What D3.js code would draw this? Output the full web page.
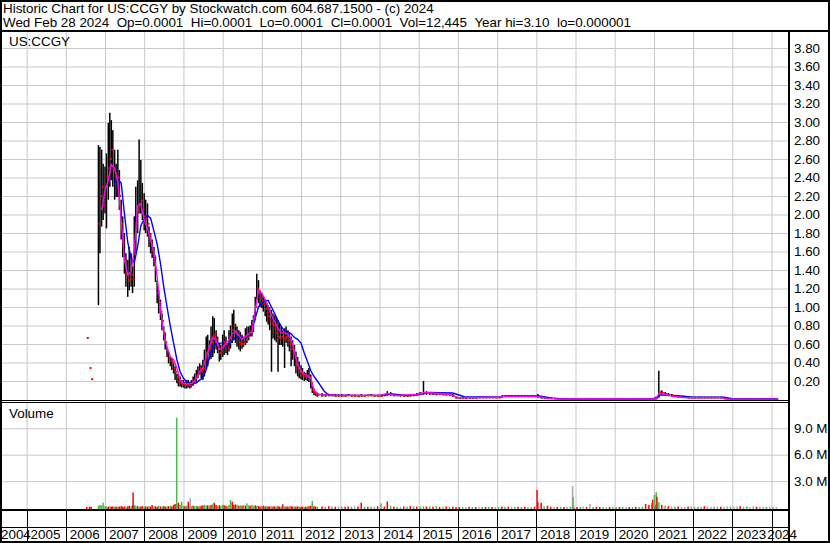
<!DOCTYPE html>
<html>
<head>
<meta charset="utf-8">
<script src="https://cdn.jsdelivr.net/npm/d3@7"></script>
<style>
  body { margin: 0; background: #fff; }
  svg { display: block; font-family: Arial, "Liberation Sans", sans-serif; }
</style>
</head>
<body>
<svg id="chart" width="830" height="543"></svg>
<script>
// Texts
const title = 'Historic Chart for US:CCGY by Stockwatch.com 604.687.1500 - (c) 2024';
const subtitle = 'Wed Feb 28 2024  Op=0.0001  Hi=0.0001  Lo=0.0001  Cl=0.0001  Vol=12,445  Year hi=3.10  lo=0.000001';
const symbol = 'US:CCGY';
const volumeLabel = 'Volume';

// Axis ticks
const years = [2004, 2005, 2006, 2007, 2008, 2009, 2010, 2011, 2012, 2013, 2014,
  2015, 2016, 2017, 2018, 2019, 2020, 2021, 2022, 2023, 2024];
const priceTicks = [0.2, 0.4, 0.6, 0.8, 1.0, 1.2, 1.4, 1.6, 1.8, 2.0, 2.2, 2.4, 2.6,
  2.8, 3.0, 3.2, 3.4, 3.6, 3.8];
const volumeTicks = [3, 6, 9];
const volumeTickLabels = ['3.0 M', '6.0 M', '9.0 M'];

// Price bars (semi-monthly while active, monthly later)
const dates = [
  '2006-07-15', '2006-08-10', '2006-08-25',
  '2006-11-01', '2006-11-15', '2006-12-01', '2006-12-15',
  '2007-01-01', '2007-01-15', '2007-02-01', '2007-02-15', '2007-03-01', '2007-03-15', '2007-04-01', '2007-04-15', '2007-05-01', '2007-05-15', '2007-06-01', '2007-06-15',
  '2007-07-01', '2007-07-15', '2007-08-01', '2007-08-15', '2007-09-01', '2007-09-15', '2007-10-01', '2007-10-15', '2007-11-01', '2007-11-15', '2007-12-01', '2007-12-15',
  '2008-01-01', '2008-01-15', '2008-02-01', '2008-02-15', '2008-03-01', '2008-03-15', '2008-04-01', '2008-04-15', '2008-05-01', '2008-05-15', '2008-06-01', '2008-06-15',
  '2008-07-01', '2008-07-15', '2008-08-01', '2008-08-15', '2008-09-01', '2008-09-15', '2008-10-01', '2008-10-15', '2008-11-01', '2008-11-15', '2008-12-01', '2008-12-15',
  '2009-01-01', '2009-01-15', '2009-02-01', '2009-02-15', '2009-03-01', '2009-03-15', '2009-04-01', '2009-04-15', '2009-05-01', '2009-05-15', '2009-06-01', '2009-06-15',
  '2009-07-01', '2009-07-15', '2009-08-01', '2009-08-15', '2009-09-01', '2009-09-15', '2009-10-01', '2009-10-15', '2009-11-01', '2009-11-15', '2009-12-01', '2009-12-15',
  '2010-01-01', '2010-01-15', '2010-02-01', '2010-02-15', '2010-03-01', '2010-03-15', '2010-04-01', '2010-04-15', '2010-05-01', '2010-05-15', '2010-06-01', '2010-06-15',
  '2010-07-01', '2010-07-15', '2010-08-01', '2010-08-15', '2010-09-01', '2010-09-15', '2010-10-01', '2010-10-15', '2010-11-01', '2010-11-15', '2010-12-01', '2010-12-15',
  '2011-01-01', '2011-01-15', '2011-02-01', '2011-02-15', '2011-03-01', '2011-03-15', '2011-04-01', '2011-04-15', '2011-05-01', '2011-05-15', '2011-06-01', '2011-06-15',
  '2011-07-01', '2011-07-15', '2011-08-01', '2011-08-15', '2011-09-01', '2011-09-15', '2011-10-01', '2011-10-15', '2011-11-01', '2011-11-15', '2011-12-01', '2011-12-15',
  '2012-01-01', '2012-01-15', '2012-02-01', '2012-02-15', '2012-03-01', '2012-03-15', '2012-04-01', '2012-04-15', '2012-05-01', '2012-05-15', '2012-06-01',
  '2012-07-15', '2012-08-15', '2012-09-15', '2012-10-15', '2012-11-15', '2012-12-15',
  '2013-01-15', '2013-02-15', '2013-03-15', '2013-04-15', '2013-05-15', '2013-06-15', '2013-07-15', '2013-08-15', '2013-09-15', '2013-10-15', '2013-11-15', '2013-12-15',
  '2014-01-15', '2014-02-15', '2014-03-15', '2014-04-15', '2014-05-15', '2014-06-15', '2014-07-15', '2014-08-15', '2014-09-15', '2014-10-15', '2014-11-15', '2014-12-15',
  '2015-01-15', '2015-02-15', '2015-03-15', '2015-04-15', '2015-05-15', '2015-06-15', '2015-07-15', '2015-08-15', '2015-09-15', '2015-10-15', '2015-11-15', '2015-12-15',
  '2016-01-15', '2016-02-15', '2016-03-15', '2016-04-15', '2016-05-15', '2016-06-15', '2016-07-15', '2016-08-15', '2016-09-15', '2016-10-15', '2016-11-15', '2016-12-15',
  '2017-01-15', '2017-02-15', '2017-03-15', '2017-04-15', '2017-05-15', '2017-06-15', '2017-07-15', '2017-08-15', '2017-09-15', '2017-10-15', '2017-11-15', '2017-12-15',
  '2018-01-15', '2018-02-15', '2018-03-15', '2018-04-15', '2018-05-15', '2018-06-15', '2018-07-15', '2018-08-15', '2018-09-15', '2018-10-15', '2018-11-15', '2018-12-15',
  '2019-01-15', '2019-02-15', '2019-03-15', '2019-04-15', '2019-05-15', '2019-06-15', '2019-07-15', '2019-08-15', '2019-09-15', '2019-10-15', '2019-11-15', '2019-12-15',
  '2020-01-15', '2020-02-15', '2020-03-15', '2020-04-15', '2020-05-15', '2020-06-15', '2020-07-15', '2020-08-15', '2020-09-15', '2020-10-15', '2020-11-15', '2020-12-15',
  '2021-01-15', '2021-02-15', '2021-03-15', '2021-04-15', '2021-05-15', '2021-06-15', '2021-07-15', '2021-08-15', '2021-09-15', '2021-10-15', '2021-11-15', '2021-12-15',
  '2022-01-15', '2022-02-15', '2022-03-15', '2022-04-15', '2022-05-15', '2022-06-15', '2022-07-15', '2022-08-15', '2022-09-15', '2022-10-15', '2022-11-15', '2022-12-15',
  '2023-01-15', '2023-02-15', '2023-03-15', '2023-04-15', '2023-05-15', '2023-06-15', '2023-07-15', '2023-08-15', '2023-09-15', '2023-10-15', '2023-11-15', '2023-12-15',
  '2024-01-15', '2024-02-15'
];

const highs = [
  0.665, 0.34, 0.22,
  2.75, 2.73, 2.70, 2.55,
  2.52, 2.66, 2.99, 3.10, 3.02, 2.91, 2.70, 2.55, 2.70, 2.48, 2.16, 1.98, 1.80, 1.58, 1.51, 1.65, 1.58, 1.44, 1.98, 2.30, 2.37, 2.81, 2.59, 2.34,
  2.23, 2.16, 2.12, 1.87, 1.80, 1.73, 1.65, 1.54, 1.29, 1.18, 1.08, 0.93, 0.79, 0.72, 0.57, 0.52, 0.46, 0.45, 0.39, 0.36, 0.28, 0.27, 0.25, 0.21,
  0.21, 0.19, 0.21, 0.21, 0.19, 0.21, 0.25, 0.28, 0.32, 0.36, 0.39, 0.37, 0.43, 0.54, 0.68, 0.70, 0.64, 0.79, 0.90, 0.88, 0.75, 0.68, 0.61, 0.59,
  0.70, 0.75, 0.68, 0.61, 0.75, 0.80, 0.93, 0.97, 0.82, 0.79, 0.75, 0.73, 0.70, 0.68, 0.77, 0.79, 0.79, 0.80, 0.86, 0.91, 1.11, 1.36, 1.29, 1.18,
  1.15, 1.11, 1.08, 1.04, 1.02, 1.00, 0.97, 0.93, 0.91, 0.90, 0.86, 0.82, 0.79, 0.75, 0.77, 0.79, 0.75, 0.72, 0.68, 0.64, 0.59, 0.52, 0.46, 0.41,
  0.37, 0.34, 0.30, 0.29, 0.32, 0.34, 0.27, 0.18, 0.12, 0.085, 0.074,
  0.07, 0.06, 0.06, 0.055, 0.06, 0.055,
  0.06, 0.05, 0.06, 0.05, 0.055, 0.05, 0.06, 0.05, 0.055, 0.06, 0.05, 0.05,
  0.05, 0.06, 0.09, 0.08, 0.06, 0.055, 0.055, 0.05, 0.05, 0.055, 0.06, 0.07,
  0.08, 0.20, 0.09, 0.08, 0.075, 0.07, 0.075, 0.07, 0.065, 0.065, 0.06, 0.03,
  0.025, 0.02, 0.02, 0.025, 0.02, 0.02, 0.03, 0.03, 0.03, 0.03, 0.03, 0.03,
  0.03, 0.045, 0.045, 0.045, 0.04, 0.04, 0.04, 0.04, 0.04, 0.04, 0.04, 0.045,
  0.06, 0.035, 0.025, 0.02, 0.02, 0.015, 0.01, 0.008, 0.008, 0.008, 0.008, 0.008,
  0.006, 0.006, 0.008, 0.006, 0.006, 0.006, 0.005, 0.006, 0.006, 0.005, 0.006, 0.006,
  0.006, 0.005, 0.006, 0.005, 0.006, 0.006, 0.006, 0.005, 0.006, 0.008, 0.01, 0.012,
  0.03, 0.31, 0.10, 0.08, 0.07, 0.06, 0.05, 0.045, 0.04, 0.035, 0.03, 0.03,
  0.03, 0.03, 0.03, 0.03, 0.03, 0.03, 0.03, 0.03, 0.03, 0.02, 0.01, 0.008,
  0.008, 0.007, 0.008, 0.008, 0.006, 0.008, 0.007, 0.008, 0.006, 0.008, 0.007, 0.006,
  0.005, 0.005
];

const lows = [
  0.665, 0.34, 0.22,
  1.02, 1.58, 1.87, 1.94,
  2.01, 1.85, 2.16, 2.30, 2.37, 2.30, 2.16, 2.19, 2.19, 2.05, 1.73, 1.54, 1.36, 1.22, 1.11, 1.18, 1.22, 1.15, 1.22, 1.58, 1.80, 2.01, 2.01, 1.94,
  1.83, 1.80, 1.76, 1.65, 1.58, 1.53, 1.44, 1.27, 1.04, 0.93, 0.86, 0.75, 0.64, 0.54, 0.46, 0.39, 0.36, 0.32, 0.28, 0.21, 0.175, 0.14, 0.14, 0.13,
  0.13, 0.12, 0.12, 0.13, 0.12, 0.13, 0.15, 0.175, 0.19, 0.23, 0.27, 0.23, 0.21, 0.25, 0.32, 0.36, 0.43, 0.44, 0.46, 0.50, 0.54, 0.50, 0.41, 0.43,
  0.46, 0.48, 0.50, 0.48, 0.52, 0.55, 0.61, 0.64, 0.61, 0.57, 0.54, 0.52, 0.55, 0.57, 0.59, 0.61, 0.64, 0.68, 0.68, 0.73, 0.86, 1.08, 1.04, 1.00,
  0.99, 0.95, 0.90, 0.84, 0.81, 0.75, 0.30, 0.66, 0.64, 0.62, 0.30, 0.59, 0.59, 0.57, 0.34, 0.61, 0.57, 0.52, 0.36, 0.43, 0.36, 0.28, 0.25, 0.23,
  0.22, 0.21, 0.20, 0.21, 0.20, 0.19, 0.12, 0.07, 0.05, 0.04, 0.03,
  0.03, 0.03, 0.035, 0.035, 0.03, 0.03,
  0.03, 0.03, 0.035, 0.03, 0.03, 0.03, 0.03, 0.03, 0.035, 0.035, 0.03, 0.03,
  0.03, 0.035, 0.04, 0.04, 0.035, 0.035, 0.03, 0.03, 0.03, 0.03, 0.035, 0.04,
  0.05, 0.05, 0.05, 0.05, 0.05, 0.045, 0.05, 0.045, 0.04, 0.04, 0.03, 0.01,
  0.01, 0.01, 0.01, 0.01, 0.01, 0.01, 0.015, 0.015, 0.015, 0.015, 0.015, 0.015,
  0.015, 0.02, 0.025, 0.025, 0.025, 0.025, 0.025, 0.025, 0.025, 0.025, 0.025, 0.025,
  0.02, 0.01, 0.01, 0.008, 0.008, 0.005, 0.003, 0.002, 0.002, 0.002, 0.002, 0.002,
  0.001, 0.001, 0.001, 0.001, 0.001, 0.001, 0.001, 0.001, 0.001, 0.001, 0.001, 0.001,
  0.001, 0.001, 0.001, 0.001, 0.001, 0.001, 0.001, 0.001, 0.001, 0.002, 0.003, 0.004,
  0.005, 0.02, 0.05, 0.04, 0.035, 0.03, 0.025, 0.02, 0.015, 0.015, 0.012, 0.012,
  0.01, 0.01, 0.01, 0.01, 0.01, 0.01, 0.01, 0.01, 0.01, 0.005, 0.002, 0.002,
  0.001, 0.001, 0.001, 0.001, 0.001, 0.001, 0.001, 0.001, 0.001, 0.001, 0.001, 0.001,
  0.0001, 0.0001
];

const closes = [
  0.665, 0.34, 0.22,
  1.90, 2.20, 2.30, 2.10,
  2.30, 2.40, 2.50, 2.60, 2.70, 2.50, 2.45, 2.40, 2.40, 2.20, 1.90, 1.70, 1.50, 1.35, 1.28, 1.30, 1.35, 1.30, 1.60, 1.90, 2.05, 2.10, 2.15, 2.05,
  1.98, 1.95, 1.90, 1.78, 1.70, 1.62, 1.55, 1.40, 1.15, 1.05, 0.95, 0.85, 0.72, 0.62, 0.52, 0.45, 0.42, 0.40, 0.34, 0.30, 0.24, 0.20, 0.18, 0.17,
  0.16, 0.16, 0.16, 0.16, 0.15, 0.16, 0.19, 0.22, 0.26, 0.30, 0.33, 0.30, 0.33, 0.42, 0.50, 0.55, 0.55, 0.62, 0.68, 0.70, 0.65, 0.58, 0.50, 0.52,
  0.58, 0.62, 0.60, 0.55, 0.62, 0.68, 0.75, 0.80, 0.72, 0.70, 0.62, 0.60, 0.60, 0.62, 0.65, 0.68, 0.72, 0.74, 0.78, 0.85, 1.00, 1.20, 1.15, 1.10,
  1.07, 1.03, 0.98, 0.94, 0.90, 0.86, 0.82, 0.80, 0.76, 0.72, 0.68, 0.66, 0.68, 0.65, 0.66, 0.68, 0.64, 0.60, 0.55, 0.50, 0.45, 0.38, 0.33, 0.30,
  0.28, 0.26, 0.25, 0.24, 0.25, 0.24, 0.18, 0.10, 0.07, 0.06, 0.05,
  0.045, 0.045, 0.045, 0.045, 0.04, 0.04,
  0.04, 0.04, 0.045, 0.04, 0.04, 0.035, 0.04, 0.04, 0.045, 0.045, 0.04, 0.04,
  0.04, 0.045, 0.06, 0.055, 0.045, 0.045, 0.045, 0.04, 0.04, 0.045, 0.05, 0.06,
  0.065, 0.07, 0.07, 0.065, 0.06, 0.06, 0.06, 0.055, 0.055, 0.05, 0.04, 0.02,
  0.015, 0.015, 0.015, 0.015, 0.015, 0.015, 0.02, 0.02, 0.02, 0.02, 0.02, 0.02,
  0.02, 0.035, 0.035, 0.035, 0.035, 0.035, 0.035, 0.035, 0.035, 0.035, 0.035, 0.035,
  0.03, 0.02, 0.015, 0.012, 0.012, 0.01, 0.005, 0.004, 0.004, 0.004, 0.004, 0.004,
  0.003, 0.003, 0.004, 0.003, 0.003, 0.003, 0.003, 0.003, 0.003, 0.003, 0.003, 0.003,
  0.003, 0.003, 0.003, 0.003, 0.003, 0.003, 0.003, 0.003, 0.003, 0.004, 0.006, 0.008,
  0.015, 0.08, 0.07, 0.06, 0.05, 0.045, 0.04, 0.035, 0.03, 0.025, 0.02, 0.02,
  0.02, 0.02, 0.02, 0.02, 0.02, 0.02, 0.02, 0.02, 0.02, 0.01, 0.005, 0.004,
  0.004, 0.003, 0.004, 0.004, 0.003, 0.004, 0.003, 0.004, 0.003, 0.004, 0.003, 0.003,
  0.003, 0.0001
];

// Volume (millions) and direction per bar: u = up, d = down, n = unchanged
const volumes = [
  0.08, 0.1, 0.08,
  0.2, 0.3, 0.25, 0.55,
  0.15, 0.12, 0.1, 0.12, 0.1, 0.12, 0.1, 0.1, 0.08, 0.12, 0.15, 0.1, 0.12, 0.1, 0.12, 0.2, 0.15, 0.25, 0.3, 0.2, 0.15, 0.12, 0.1, 0.15,
  0.1, 0.12, 0.1, 0.15, 0.1, 0.27, 0.15, 0.12, 0.1, 0.2, 0.12, 0.1, 0.15, 0.1, 0.12, 0.15, 0.2, 0.12, 0.3, 0.4, 0.35, 0.55, 0.3, 0.66,
  0.2, 0.15, 0.2, 0.66, 0.2, 0.15, 0.2, 0.15, 0.2, 0.12, 0.15, 0.2, 0.25, 0.3, 0.2, 0.25, 0.2, 0.3, 0.35, 0.54, 0.3, 0.2, 0.25, 0.2,
  0.3, 0.25, 0.2, 0.15, 0.3, 0.85, 0.66, 0.3, 0.35, 0.3, 0.2, 0.25, 0.2, 0.3, 0.2, 0.47, 0.25, 0.2, 0.3, 0.2, 0.25, 0.2, 0.15, 0.12,
  0.15, 0.2, 0.12, 0.15, 0.1, 0.12, 0.15, 0.1, 0.12, 0.1, 0.15, 0.1, 0.12, 0.36, 0.12, 0.1, 0.12, 0.1, 0.15, 0.1, 0.12, 0.1, 0.12, 0.1,
  0.08, 0.1, 0.08, 0.1, 0.12, 0.15, 0.2, 0.74, 0.15, 0.1, 0.12,
  0.12, 0.08, 0.15, 0.1, 0.08, 0.12,
  0.1, 0.08, 0.12, 0.1, 0.15, 0.1, 0.54, 0.1, 0.08, 0.12, 0.1, 0.15,
  0.47, 0.1, 0.69, 0.2, 0.1, 0.08, 0.1, 0.12, 0.1, 0.15, 0.12, 0.1,
  0.12, 0.15, 0.1, 0.12, 0.1, 0.17, 0.08, 0.1, 0.12, 0.08, 0.1, 0.06,
  0.05, 0.06, 0.05, 0.08, 0.05, 0.06, 0.05, 0.06, 0.05, 0.08, 0.06, 0.05,
  0.06, 0.1, 0.08, 0.1, 0.08, 0.06, 0.08, 0.06, 0.1, 0.08, 0.06, 0.1,
  0.6, 0.55, 0.12, 0.2, 0.1, 0.08, 0.06, 0.08, 0.06, 0.08, 0.1, 0.1,
  0.06, 0.08, 0.1, 0.06, 0.4, 0.06, 0.08, 0.06, 0.05, 0.08, 0.06, 0.05,
  0.06, 0.05, 0.08, 0.06, 0.05, 0.06, 0.08, 0.06, 0.1, 0.4, 0.3, 0.48,
  0.3, 0.6, 0.3, 0.2, 0.15, 0.12, 0.1, 0.12, 0.1, 0.08, 0.1, 0.12,
  0.1, 0.08, 0.12, 0.15, 0.1, 0.08, 0.1, 0.12, 0.08, 0.1, 0.12, 0.1,
  0.1, 0.12, 0.15, 0.1, 0.12, 0.08, 0.15, 0.1, 0.12, 0.1, 0.08, 0.1,
  0.05, 0.05
];

const volumeDirs = [
  'd', 'd', 'd',
  'u', 'u', 'u', 'u',
  'u', 'u', 'd', 'u', 'd', 'd', 'u', 'd', 'u', 'd', 'd', 'd', 'd', 'u', 'd', 'd', 'u', 'd', 'u', 'u', 'd', 'u', 'd', 'd',
  'u', 'd', 'd', 'u', 'd', 'd', 'u', 'd', 'd', 'u', 'd', 'u', 'd', 'd', 'u', 'd', 'u', 'd', 'd', 'd', 'u', 'd', 'u', 'u',
  'u', 'd', 'u', 'd', 'u', 'u', 'd', 'u', 'u', 'd', 'u', 'd', 'd', 'u', 'u', 'd', 'u', 'd', 'u', 'd', 'd', 'u', 'd', 'u',
  'u', 'd', 'd', 'u', 'u', 'u', 'd', 'd', 'd', 'u', 'd', 'u', 'd', 'u', 'd', 'u', 'u', 'd', 'u', 'u', 'd', 'u', 'd', 'd',
  'u', 'd', 'd', 'u', 'd', 'd', 'u', 'd', 'd', 'u', 'd', 'd', 'u', 'd', 'u', 'd', 'd', 'u', 'd', 'd', 'u', 'd', 'd', 'u',
  'd', 'd', 'u', 'd', 'u', 'd', 'd', 'u', 'd', 'd', 'u',
  'd', 'u', 'd', 'u', 'd', 'n',
  'u', 'd', 'd', 'u', 'n', 'd', 'd', 'u', 'd', 'u', 'n', 'd',
  'u', 'd', 'd', 'u', 'd', 'u', 'n', 'd', 'u', 'd', 'u', 'd',
  'u', 'u', 'd', 'u', 'd', 'u', 'd', 'n', 'd', 'u', 'd', 'd',
  'd', 'u', 'n', 'd', 'u', 'd', 'n', 'u', 'd', 'u', 'd', 'n',
  'u', 'd', 'u', 'd', 'n', 'u', 'd', 'u', 'd', 'n', 'u', 'd',
  'd', 'd', 'u', 'd', 'd', 'n', 'd', 'u', 'd', 'n', 'u', 'd',
  'd', 'u', 'n', 'd', 'n', 'u', 'd', 'd', 'u', 'n', 'd', 'u',
  'u', 'd', 'u', 'n', 'd', 'u', 'd', 'u', 'u', 'd', 'd', 'd',
  'd', 'u', 'd', 'u', 'd', 'n', 'u', 'd', 'n', 'n', 'd', 'n',
  'n', 'u', 'n', 'd', 'n', 'n', 'u', 'n', 'd', 'n', 'n', 'u',
  'n', 'n', 'd', 'n', 'u', 'n', 'n', 'd', 'n', 'n', 'u', 'n',
  'u', 'n'
];

// Single heavy volume days
const spikeDates = ['2007-09-20', '2008-10-30', '2009-03-05', '2018-01-08', '2018-12-05', '2018-12-10',
  '2020-12-20', '2021-01-05', '2021-01-22', '2021-01-29'];
const spikeVolumes = [1.70, 10.2, 1.05, 2.0, 2.45, 1.16, 0.9, 1.42, 1.73, 1.23];
const spikeDirs = ['d', 'u', 'n', 'd', 'n', 'u', 'd', 'u', 'u', 'd'];

// Short moving average (magenta)
const fastDates = [
  '2006-12-01',
  '2007-01-01', '2007-02-01', '2007-03-01', '2007-04-01', '2007-05-01', '2007-06-01', '2007-07-01', '2007-08-01', '2007-09-01', '2007-10-01', '2007-11-01', '2007-12-01',
  '2008-01-01', '2008-02-01', '2008-03-01', '2008-04-01', '2008-05-01', '2008-06-01', '2008-07-01', '2008-08-01', '2008-09-01', '2008-10-01', '2008-11-01', '2008-12-01',
  '2009-01-01', '2009-02-01', '2009-03-01', '2009-04-01', '2009-05-01', '2009-06-01', '2009-07-01', '2009-08-01', '2009-09-01', '2009-10-01', '2009-11-01', '2009-12-01',
  '2010-01-01', '2010-02-01', '2010-03-01', '2010-04-01', '2010-05-01', '2010-06-01', '2010-07-01', '2010-08-01', '2010-09-01', '2010-10-01', '2010-11-01', '2010-12-01',
  '2011-01-01', '2011-02-01', '2011-03-01', '2011-04-01', '2011-05-01', '2011-06-01', '2011-07-01', '2011-08-01', '2011-09-01', '2011-10-01', '2011-11-01', '2011-12-01',
  '2012-01-01', '2012-02-01', '2012-03-01', '2012-04-01', '2012-05-01', '2012-06-01', '2012-07-01',
  '2013-01-01', '2014-01-01', '2014-03-15', '2014-06-01', '2015-01-01', '2015-03-01', '2015-10-01', '2016-01-01', '2016-07-01', '2017-01-15', '2017-03-01',
  '2018-01-01', '2018-04-01', '2018-08-01', '2021-01-15', '2021-02-20', '2021-04-01', '2021-07-01', '2021-10-01', '2022-09-15', '2022-11-15', '2024-02-28'
];
const fastValues = [
  2.05,
  2.25, 2.37, 2.54, 2.50, 2.35, 1.94, 1.51, 1.35, 1.38, 1.62, 2.09, 2.12,
  1.94, 1.85, 1.73, 1.58, 1.33, 0.97, 0.72, 0.57, 0.46, 0.43, 0.34, 0.21,
  0.175, 0.17, 0.17, 0.18, 0.23, 0.30, 0.34, 0.46, 0.57, 0.67, 0.64, 0.54,
  0.56, 0.61, 0.64, 0.71, 0.74, 0.69, 0.65, 0.68, 0.71, 0.73, 0.97, 1.18,
  1.15, 1.08, 1.00, 0.91, 0.84, 0.77, 0.72, 0.72, 0.71, 0.65, 0.52, 0.37,
  0.31, 0.28, 0.26, 0.22, 0.10, 0.067, 0.05,
  0.045, 0.045, 0.065, 0.045, 0.055, 0.075, 0.06, 0.02, 0.02, 0.025, 0.035,
  0.035, 0.015, 0.005, 0.005, 0.07, 0.055, 0.035, 0.022, 0.02, 0.005, 0.004
];

// Long moving average (blue)
const slowDates = [
  '2007-03-25', '2007-05-01', '2007-06-01', '2007-07-01', '2007-08-01', '2007-09-01', '2007-10-01', '2007-11-01', '2007-12-01',
  '2008-01-01', '2008-02-01', '2008-03-01', '2008-04-01', '2008-05-01', '2008-06-01', '2008-07-01', '2008-08-01', '2008-09-01', '2008-10-01', '2008-11-01', '2008-12-01',
  '2009-01-01', '2009-02-01', '2009-03-01', '2009-04-01', '2009-05-01', '2009-06-01', '2009-07-01', '2009-08-01', '2009-09-01', '2009-10-01', '2009-11-01', '2009-12-01',
  '2010-01-01', '2010-02-01', '2010-03-01', '2010-04-01', '2010-05-01', '2010-06-01', '2010-07-01', '2010-08-01', '2010-09-01', '2010-10-01', '2010-11-01', '2010-12-01',
  '2011-01-01', '2011-02-01', '2011-03-01', '2011-04-01', '2011-05-01', '2011-06-01', '2011-07-01', '2011-08-01', '2011-09-01', '2011-10-01', '2011-11-01', '2011-12-01',
  '2012-01-01', '2012-02-01', '2012-03-01', '2012-04-01', '2012-05-01', '2012-06-01', '2012-07-01', '2012-08-01', '2012-09-01', '2012-10-01',
  '2013-06-01', '2014-01-01', '2014-05-01', '2014-09-01', '2015-01-01', '2015-04-01', '2015-11-15', '2016-03-01', '2017-01-15', '2017-04-01',
  '2018-01-15', '2018-06-01', '2018-10-01', '2021-01-20', '2021-03-01', '2021-06-01', '2021-10-01', '2022-01-01', '2022-10-15', '2023-01-01', '2024-02-28'
];
const slowValues = [
  2.34, 2.38, 2.34, 2.01, 1.70, 1.53, 1.48, 1.65, 1.88,
  1.95, 1.99, 1.96, 1.82, 1.68, 1.47, 1.22, 1.00, 0.79, 0.61, 0.43, 0.30,
  0.23, 0.19, 0.17, 0.17, 0.18, 0.21, 0.235, 0.32, 0.46, 0.55, 0.61, 0.61,
  0.61, 0.58, 0.59, 0.64, 0.67, 0.67, 0.66, 0.67, 0.70, 0.75, 0.88, 1.00,
  1.05, 1.07, 1.07, 1.00, 0.93, 0.85, 0.79, 0.74, 0.73, 0.71, 0.67, 0.65,
  0.61, 0.50, 0.41, 0.31, 0.25, 0.20, 0.15, 0.095, 0.06, 0.05,
  0.045, 0.045, 0.06, 0.045, 0.05, 0.075, 0.07, 0.03, 0.025, 0.04,
  0.04, 0.015, 0.005, 0.005, 0.05, 0.045, 0.035, 0.025, 0.025, 0.008, 0.005
];

// Layout
const W = 830, H = 543;
const plotR = 789;
const priceTop = 32, priceBottom = 400;
const volTop = 403, volBottom = 510;
const fontSize = 13.4;
const dirColor = { u: '#4cb84c', d: '#ff0000', n: '#a8a8a8' };
const gridColor = '#c8c8c8';

const parse = d3.timeParse('%Y-%m-%d');

// Scales
const x = d3.scaleTime()
  .domain([new Date(2004, 3, 28), new Date(2024, 5, 12)])
  .range([0, plotR]);
const yPrice = d3.scaleLinear().domain([0, 3.8]).range([399.5, 48]);
const yVol = d3.scaleLinear().domain([0, 9]).range([507.5, 428.3]);

const bars = dates.map((d, i) => ({
  date: parse(d), hi: highs[i], lo: lows[i], cl: closes[i], vol: volumes[i], dir: volumeDirs[i]
}));
const spikes = spikeDates.map((d, i) => ({ date: parse(d), vol: spikeVolumes[i], dir: spikeDirs[i] }));
const fast = fastDates.map((d, i) => ({ date: parse(d), v: fastValues[i] }));
const slow = slowDates.map((d, i) => ({ date: parse(d), v: slowValues[i] }));
const yearDates = years.map(y => new Date(y, 0, 1));

const svg = d3.select('#chart');
svg.append('rect').attr('width', W).attr('height', H).attr('fill', '#fff');

// Header (keep the double spaces between fields)
svg.append('text').attr('x', 3).attr('y', 13).attr('font-size', fontSize).attr('fill', '#000').text(title);
svg.append('text').attr('x', 3).attr('y', 27).attr('font-size', fontSize).attr('fill', '#000')
  .text(subtitle.replace(/  /g, ' \u00a0'));

// Clip regions for the two panels
const defs = svg.append('defs');
defs.append('clipPath').attr('id', 'clipPrice').append('rect')
  .attr('x', 2).attr('y', priceTop).attr('width', plotR - 2).attr('height', priceBottom - priceTop);
defs.append('clipPath').attr('id', 'clipVol').append('rect')
  .attr('x', 2).attr('y', volTop).attr('width', plotR - 2).attr('height', volBottom - volTop);

// Gridlines
function styleGrid(g) {
  g.select('.domain').remove();
  g.selectAll('line').attr('stroke', gridColor);
}
svg.append('g').attr('transform', `translate(0,${priceBottom})`)
  .call(d3.axisBottom(x).tickValues(yearDates.slice(1)).tickSize(-(priceBottom - priceTop)).tickFormat(''))
  .call(styleGrid);
svg.append('g').attr('transform', `translate(0,${volBottom})`)
  .call(d3.axisBottom(x).tickValues(yearDates.slice(1)).tickSize(-(volBottom - volTop)).tickFormat(''))
  .call(styleGrid);
svg.append('g').attr('transform', 'translate(2,0)')
  .call(d3.axisLeft(yPrice).tickValues(priceTicks).tickSize(-(plotR - 2)).tickFormat(''))
  .call(styleGrid);
svg.append('g').attr('transform', 'translate(2,0)')
  .call(d3.axisLeft(yVol).tickValues(volumeTicks).tickSize(-(plotR - 2)).tickFormat(''))
  .call(styleGrid);

// Price panel
const price = svg.append('g').attr('clip-path', 'url(#clipPrice)');

price.selectAll('.bar')
  .data(bars.filter(b => b.hi > b.lo))
  .join('line')
  .attr('class', 'bar')
  .attr('x1', d => x(d.date)).attr('x2', d => x(d.date))
  .attr('y1', d => yPrice(d.hi))
  .attr('y2', d => Math.max(yPrice(d.lo), yPrice(d.hi) + 1))
  .attr('stroke', '#000')
  .attr('stroke-width', 1.5);

price.selectAll('.close')
  .data(bars)
  .join('rect')
  .attr('class', 'close')
  .attr('x', d => x(d.date))
  .attr('y', d => yPrice(d.cl) - 1)
  .attr('width', 2).attr('height', 2)
  .attr('fill', '#ff0000');

const maLine = d3.line().x(d => x(d.date)).y(d => yPrice(d.v));
price.append('path').datum(slow).attr('d', maLine)
  .attr('fill', 'none').attr('stroke', '#0000ff').attr('stroke-width', 1.4);
price.append('path').datum(fast).attr('d', maLine)
  .attr('fill', 'none').attr('stroke', '#ff00ff').attr('stroke-width', 1.4);

// Volume panel
const vol = svg.append('g').attr('clip-path', 'url(#clipVol)');
vol.selectAll('.vbar')
  .data(bars.concat(spikes))
  .join('rect')
  .attr('class', 'vbar')
  .attr('x', d => x(d.date) - 0.75)
  .attr('y', d => yVol(d.vol))
  .attr('width', 1.5)
  .attr('height', d => yVol(0) + 1.5 - yVol(d.vol))
  .attr('fill', d => dirColor[d.dir]);

// Right-hand labels
svg.append('g').attr('transform', `translate(${plotR},0)`)
  .call(d3.axisRight(yPrice).tickValues(priceTicks).tickSize(0).tickPadding(5).tickFormat(d3.format('.2f')))
  .call(g => g.select('.domain').remove())
  .selectAll('text').attr('font-size', fontSize).attr('font-family', 'Arial, "Liberation Sans", sans-serif').attr('fill', '#000');
svg.append('g').attr('transform', `translate(${plotR},0)`)
  .call(d3.axisRight(yVol).tickValues(volumeTicks).tickSize(0).tickPadding(5).tickFormat((d, i) => volumeTickLabels[i]))
  .call(g => g.select('.domain').remove())
  .selectAll('text').attr('font-size', fontSize).attr('font-family', 'Arial, "Liberation Sans", sans-serif').attr('fill', '#000');

// Panel titles
svg.append('text').attr('x', 9).attr('y', 46).attr('font-size', fontSize).attr('fill', '#000').text(symbol);
svg.append('text').attr('x', 9).attr('y', 418).attr('font-size', fontSize).attr('fill', '#000').text(volumeLabel);

// Year axis
svg.selectAll('.yearLabel')
  .data(years)
  .join('text')
  .attr('class', 'yearLabel')
  .attr('x', (d, i) => i === years.length - 1 ? 797 : Math.max(1, x(yearDates[i]) + 4))
  .attr('text-anchor', (d, i) => i === years.length - 1 ? 'end' : 'start')
  .attr('y', 539)
  .attr('font-size', fontSize)
  .attr('fill', '#000')
  .text(d => d);
svg.selectAll('.yearTick')
  .data(yearDates.slice(1))
  .join('line')
  .attr('class', 'yearTick')
  .attr('x1', d => Math.round(x(d)) + 0.5).attr('x2', d => Math.round(x(d)) + 0.5)
  .attr('y1', volBottom).attr('y2', H)
  .attr('stroke', '#000');

// Frame lines
const frame = svg.append('g').attr('stroke', '#000').attr('fill', 'none');
frame.append('rect').attr('x', 1).attr('y', 1).attr('width', W - 2).attr('height', H - 2).attr('stroke-width', 2);
frame.append('line').attr('x1', 0).attr('x2', W).attr('y1', 31).attr('y2', 31).attr('stroke-width', 2);
frame.append('line').attr('x1', 0).attr('x2', plotR).attr('y1', 400.5).attr('y2', 400.5);
frame.append('line').attr('x1', 0).attr('x2', plotR).attr('y1', 402.5).attr('y2', 402.5);
frame.append('line').attr('x1', 0).attr('x2', plotR).attr('y1', volBottom).attr('y2', volBottom).attr('stroke-width', 2);
frame.append('line').attr('x1', 0).attr('x2', plotR).attr('y1', 527.5).attr('y2', 527.5);
frame.append('line').attr('x1', plotR).attr('x2', plotR).attr('y1', 31).attr('y2', H).attr('stroke-width', 2);
</script>
</body>
</html>
